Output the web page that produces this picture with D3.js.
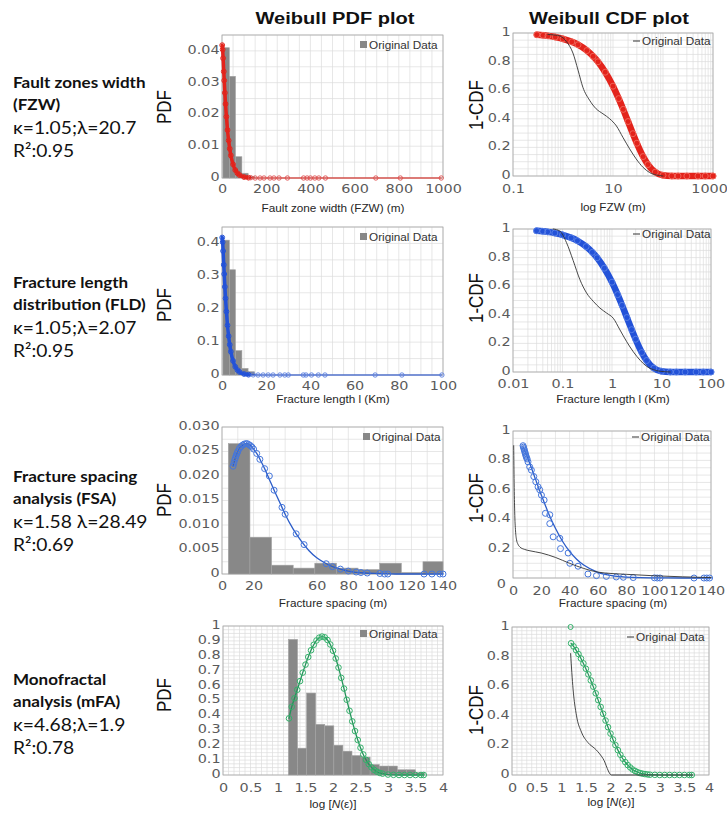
<!DOCTYPE html>
<html>
<head>
<meta charset="utf-8">
<title>Weibull PDF and CDF fits</title>
<script src="https://cdn.jsdelivr.net/npm/d3@7/dist/d3.min.js"></script>
<style>
  html, body { margin: 0; padding: 0; background: #fff; }
  svg { display: block; }
</style>
</head>
<body>
<svg id="fig" width="727" height="813"></svg>
<script>
// ---------- labels ----------
const columnTitles = ["Weibull PDF plot", "Weibull CDF plot"];
const rowNames = [["Fault zones width", "(FZW)"], ["Fracture length", "distribution (FLD)"],
                  ["Fracture spacing", "analysis (FSA)"], ["Monofractal", "analysis (mFA)"]];
const rowParams = ["κ=1.05;λ=20.7", "κ=1.05;λ=2.07", "κ=1.58 λ=28.49", "κ=4.68;λ=1.9"];
const rowFit = ["R²:0.95", "R²:0.95", "R²:0.69", "R²:0.78"];
const legendLabel = "Original Data";

// ---------- Fault zone width (FZW) ----------
const fzwBinEdges = [4, 33, 61, 90, 118, 147];
const fzwBinDensity = [0.041, 0.032, 0.0067, 0.0015, 0.0005];
const fzwPdfX = [1, 3, 5, 8, 10, 13, 16, 20, 25, 30, 35, 40, 50, 60, 70, 80, 100, 120];
const fzwPdfY = [0.0418, 0.0404, 0.0377, 0.0335, 0.0307, 0.0268, 0.0233, 0.0193, 0.0151, 0.0118, 0.0092, 0.0071, 0.0043, 0.0025, 0.0015, 0.0009, 0.0003, 0.0001];
const fzwTailX = [130, 150, 172, 190, 217, 235, 258, 296, 369, 385, 400, 420, 438, 468, 696, 807, 992];
const fzwTailY = [0.0001, 0, 0, 0, 0, 0, 0, 0, 0, 0, 0, 0, 0, 0, 0, 0, 0];
const fzwCdfX = [0.3, 0.4, 0.5, 0.7, 1, 1.5, 2, 3, 4, 5, 7, 10, 13, 16, 20, 25, 30, 40, 50, 70, 100, 150, 200, 300, 500, 700, 1000];
const fzwCdfY = [0.988, 0.984, 0.980, 0.972, 0.959, 0.938, 0.918, 0.877, 0.837, 0.799, 0.726, 0.628, 0.541, 0.466, 0.381, 0.296, 0.229, 0.136, 0.080, 0.027, 0.005, 0.0003, 0, 0, 0, 0, 0];
const fzwEmpX = [0.5, 0.7, 0.86, 1.17, 1.58, 2.0, 2.5, 3.4, 4.6, 6.3, 8.6, 11.7, 15.8, 21.5, 29, 40, 54, 74, 100];
const fzwEmpY = [0.99, 0.985, 0.98, 0.94, 0.86, 0.74, 0.62, 0.53, 0.47, 0.435, 0.40, 0.35, 0.27, 0.19, 0.12, 0.06, 0.024, 0.007, 0];

// ---------- Fracture length distribution (FLD) ----------
const fldBinEdges = [0.4, 3.3, 6.1, 9.0, 11.8, 14.7];
const fldBinDensity = [0.41, 0.32, 0.074, 0.02, 0.01];
const fldPdfX = [0.1, 0.3, 0.5, 0.8, 1, 1.3, 1.6, 2, 2.5, 3, 3.5, 4, 5, 6, 7, 8, 10, 12];
const fldPdfY = [0.418, 0.404, 0.377, 0.335, 0.307, 0.268, 0.233, 0.193, 0.151, 0.118, 0.092, 0.071, 0.043, 0.025, 0.015, 0.009, 0.003, 0.001];
const fldTailX = [14.1, 16.3, 18.6, 20.9, 23.1, 26.2, 28.4, 30, 36.8, 38, 40.5, 43.6, 46.6, 69.3, 81.4, 99.5];
const fldTailY = [0.0004, 0, 0, 0, 0, 0, 0, 0, 0, 0, 0, 0, 0, 0, 0, 0];
const fldCdfX = [0.03, 0.04, 0.05, 0.07, 0.1, 0.15, 0.2, 0.3, 0.4, 0.5, 0.7, 1, 1.3, 1.6, 2, 2.5, 3, 4, 5, 7, 10, 15, 20, 30, 50, 70, 100];
const fldCdfY = [0.988, 0.984, 0.980, 0.972, 0.959, 0.938, 0.918, 0.877, 0.837, 0.799, 0.726, 0.628, 0.541, 0.466, 0.381, 0.296, 0.229, 0.136, 0.080, 0.027, 0.005, 0.0003, 0, 0, 0, 0, 0];
const fldEmpX = [0.065, 0.088, 0.12, 0.164, 0.224, 0.306, 0.419, 0.571, 0.78, 1.06, 1.45, 1.98, 2.7, 3.7, 5.0, 6.9, 9.4, 15];
const fldEmpY = [1.0, 0.986, 0.906, 0.78, 0.647, 0.553, 0.494, 0.447, 0.412, 0.376, 0.294, 0.212, 0.141, 0.082, 0.04, 0.016, 0.005, 0];

// ---------- Fracture spacing analysis (FSA) ----------
const fsaBinEdges = [4, 17.7, 31.4, 45.1, 58.8, 72.5, 86.2, 99.9, 113.6, 127.3, 140];
const fsaBinDensity = [0.0266, 0.0075, 0.0018, 0.0012, 0.0022, 0.0012, 0.0009, 0.0022, 0.0003, 0.0025];
const fsaPdfX = [7, 8, 9, 10, 11, 12, 13, 14, 15, 16, 17, 18, 20, 22, 25, 27, 30, 33, 35, 38, 40, 45, 50, 55, 60, 65, 70, 75, 80, 90, 100, 110, 120, 130, 140];
const fsaPdfY = [0.0220, 0.0232, 0.0242, 0.0250, 0.0256, 0.0260, 0.0263, 0.0265, 0.0266, 0.0266, 0.0264, 0.0262, 0.0255, 0.0246, 0.0228, 0.0215, 0.0193, 0.0171, 0.0157, 0.0136, 0.0122, 0.0092, 0.0068, 0.0048, 0.0033, 0.0023, 0.0015, 0.0010, 0.0006, 0.0002, 0.0001, 0, 0, 0, 0];
const fsaPdfObsX = [7, 7.5, 8, 8.5, 9, 9.5, 10, 11, 12, 13, 14, 15, 16, 17, 18, 19, 20, 22, 24, 27, 30, 33, 38, 40, 47, 52, 66, 70, 75, 80, 85, 88, 92, 100, 103, 105, 128, 133, 138, 140];
const fsaPdfObsY = [0.0220, 0.0226, 0.0232, 0.0237, 0.0242, 0.0246, 0.0250, 0.0256, 0.0260, 0.0263, 0.0265, 0.0266, 0.0266, 0.0264, 0.0262, 0.0259, 0.0255, 0.0246, 0.0234, 0.0215, 0.0200, 0.0171, 0.0136, 0.0122, 0.0082, 0.0060, 0.0021, 0.0015, 0.0010, 0.0006, 0.0004, 0.0003, 0.0002, 0.0001, 0, 0, 0, 0, 0, 0];
const fsaCdfX = [7, 10, 12, 15, 18, 20, 25, 30, 35, 40, 45, 50, 60, 70, 80, 90, 100, 120, 140];
const fsaCdfY = [0.895, 0.826, 0.775, 0.696, 0.616, 0.565, 0.443, 0.338, 0.250, 0.181, 0.128, 0.088, 0.039, 0.016, 0.006, 0.002, 0.001, 0, 0];
const fsaObsX = [7.1, 7.4, 7.7, 8.0, 8.3, 8.6, 8.9, 9.2, 9.5, 10.0, 10.6, 11.8, 13, 14.7, 16.1, 17.7, 18.9, 20.1, 22, 22.9, 26, 26, 28.4, 33.1, 33.6, 39, 40.2, 46, 53, 59, 66, 73, 78, 85, 100, 102, 104, 128, 135, 137, 139];
const fsaObsY = [0.90, 0.89, 0.88, 0.87, 0.86, 0.85, 0.84, 0.83, 0.82, 0.81, 0.79, 0.756, 0.734, 0.69, 0.655, 0.62, 0.60, 0.564, 0.53, 0.44, 0.43, 0.37, 0.28, 0.27, 0.20, 0.17, 0.10, 0.08, 0.027, 0.016, 0.011, 0.007, 0.005, 0.003, 0.001, 0, 0, 0, 0, 0, 0];
const fsaEmpX = [0.5, 0.8, 1.2, 1.8, 2.5, 3.5, 5, 8, 12, 20, 30, 40, 50, 60, 80, 100, 120, 140];
const fsaEmpY = [0.90, 0.65, 0.45, 0.32, 0.26, 0.23, 0.21, 0.195, 0.185, 0.17, 0.14, 0.10, 0.065, 0.04, 0.025, 0.015, 0.008, 0.003];

// ---------- Monofractal analysis (mFA) ----------
const mfaBinEdges = [1.19, 1.355, 1.52, 1.685, 1.85, 2.015, 2.18, 2.345, 2.51, 2.675, 2.84, 3.005, 3.17, 3.335, 3.5, 3.665];
const mfaBinDensity = [0.91, 0.18, 0.55, 0.34, 0.33, 0.20, 0.16, 0.13, 0.12, 0.07, 0.06, 0.06, 0.035, 0.035, 0.015];
const mfaPdfX = [1.2, 1.25, 1.3, 1.35, 1.4, 1.45, 1.5, 1.55, 1.6, 1.65, 1.7, 1.75, 1.8, 1.85, 1.9, 1.95, 2.0, 2.05, 2.1, 2.15, 2.2, 2.25, 2.3, 2.35, 2.4, 2.45, 2.5, 2.55, 2.6, 2.65, 2.7, 2.75, 2.8, 2.85, 2.9, 3.0, 3.1, 3.2, 3.3, 3.4, 3.5, 3.6, 3.65];
const mfaPdfY = [0.38, 0.458, 0.515, 0.572, 0.630, 0.687, 0.741, 0.792, 0.837, 0.874, 0.903, 0.922, 0.929, 0.924, 0.906, 0.876, 0.834, 0.782, 0.721, 0.652, 0.580, 0.505, 0.431, 0.360, 0.295, 0.235, 0.183, 0.138, 0.102, 0.073, 0.051, 0.034, 0.022, 0.014, 0.009, 0.003, 0.001, 0, 0, 0, 0, 0, 0];
const mfaCdfX = [1.2, 1.25, 1.3, 1.35, 1.4, 1.45, 1.5, 1.55, 1.6, 1.65, 1.7, 1.75, 1.8, 1.85, 1.9, 1.95, 2.0, 2.05, 2.1, 2.15, 2.2, 2.25, 2.3, 2.35, 2.4, 2.45, 2.5, 2.55, 2.6, 2.65, 2.7, 2.75, 2.8, 2.9, 3.0, 3.1, 3.2, 3.3, 3.4, 3.5, 3.6, 3.65];
const mfaCdfY = [0.890, 0.869, 0.844, 0.817, 0.787, 0.754, 0.718, 0.680, 0.639, 0.597, 0.552, 0.506, 0.460, 0.414, 0.368, 0.323, 0.280, 0.240, 0.202, 0.168, 0.137, 0.110, 0.087, 0.067, 0.051, 0.037, 0.027, 0.019, 0.013, 0.009, 0.006, 0.004, 0.002, 0.001, 0, 0, 0, 0, 0, 0, 0, 0];
const mfaCdfOutlierX = [1.19];
const mfaCdfOutlierY = [1.0];
const mfaEmpX = [1.19, 1.24, 1.31, 1.41, 1.54, 1.71, 1.85, 2.02, 2.5, 3.0, 3.67];
const mfaEmpY = [0.82, 0.58, 0.40, 0.29, 0.22, 0.17, 0.11, 0.0, 0.0, 0.0, 0.0];

// ---------- drawing ----------
const TICK_FONT = "'DejaVu Sans', sans-serif";
const AX_FONT = "'Liberation Sans', Arial, sans-serif";
const NOTE_FONT = "Lato, 'Open Sans', sans-serif";
const SX = 1.2;   // horizontal text stretch used across the figure
const RED = "#e3231b", BLUE = "#2352d8", GREEN = "#33b06a", GREEN_LINE = "#23935a", BAR = "#888888";

const svg = d3.select("#fig");

function text(g, x, y, str, o = {}) {
  return g.append("text")
    .attr("transform", `translate(${x},${y}) scale(${o.sx ?? SX},1)`)
    .attr("text-anchor", o.anchor || "middle")
    .attr("font-family", o.family || AX_FONT)
    .attr("font-size", o.size || 11)
    .attr("font-weight", o.weight || "normal")
    .attr("fill", o.fill || "#262626")
    .text(str);
}

function zip(xs, ys) { return xs.map((v, i) => [v, ys[i]]); }

function panel(p) {
  const x = (p.log ? d3.scaleLog() : d3.scaleLinear()).domain(p.xDomain).range([p.left, p.right]);
  const y = d3.scaleLinear().domain(p.yDomain).range([p.bottom, p.top]);
  const g = svg.append("g");

  const grid = g.append("g").attr("stroke", "#dcdcdc").attr("stroke-width", 0.7);
  grid.selectAll(".gx").data(p.xGrid).join("line").attr("class", "gx")
    .attr("x1", d => x(d)).attr("x2", d => x(d)).attr("y1", p.top).attr("y2", p.bottom);
  grid.selectAll(".gy").data(p.yGrid).join("line").attr("class", "gy")
    .attr("x1", p.left).attr("x2", p.right).attr("y1", d => y(d)).attr("y2", d => y(d));

  g.append("rect").attr("x", p.left).attr("y", p.top)
    .attr("width", p.right - p.left).attr("height", p.bottom - p.top)
    .attr("fill", "none").attr("stroke", "#a6a6a6").attr("stroke-width", 0.8);

  const ax = g.append("g").attr("transform", `translate(0,${p.bottom})`)
    .call(d3.axisBottom(x).tickValues(p.xTicks).tickFormat(p.xFmt).tickSize(0).tickPadding(p.xPad || 6));
  const ay = g.append("g").attr("transform", `translate(${p.left},0)`)
    .call(d3.axisLeft(y).tickValues(p.yTicks).tickFormat(p.yFmt).tickSize(0).tickPadding(2));
  [ax, ay].forEach(a => {
    a.select(".domain").remove();
    a.selectAll("text").attr("font-family", TICK_FONT).attr("font-size", 12)
      .attr("fill", "#5a5a5a").attr("transform", `scale(${SX},1)`);
  });
  ay.selectAll("text").attr("dy", "0.2em");

  const layer = g.append("g");
  return { x, y, g, layer, ax, ay, p };
}

function bars(P, edges, dens) {
  const d = dens.map((v, i) => ({ x0: edges[i], x1: edges[i + 1], v }));
  P.layer.append("g").selectAll("rect").data(d).join("rect")
    .attr("x", b => P.x(b.x0)).attr("width", b => P.x(b.x1) - P.x(b.x0))
    .attr("y", b => P.y(b.v)).attr("height", b => P.y(0) - P.y(b.v))
    .attr("fill", BAR).attr("stroke", "#a3a3a3").attr("stroke-width", 0.6);
}

function line(P, pts, color, width) {
  P.layer.append("path").datum(pts)
    .attr("d", d3.line().x(d => P.x(d[0])).y(d => P.y(d[1])).curve(d3.curveMonotoneX))
    .attr("fill", "none").attr("stroke", color).attr("stroke-width", width)
    .attr("stroke-linejoin", "round").attr("stroke-linecap", "round");
}

function rings(P, pts, color, r, sw) {
  P.layer.append("g").selectAll("circle").data(pts).join("circle")
    .attr("cx", d => P.x(d[0])).attr("cy", d => P.y(d[1])).attr("r", r)
    .attr("fill", "none").attr("stroke", color).attr("stroke-width", sw || 1);
}

function pdfLegend(P, lx, ly) {
  P.g.append("rect").attr("x", lx).attr("y", ly - 4).attr("width", 7).attr("height", 7).attr("fill", BAR);
  text(P.g, lx + 9, ly + 3.5, legendLabel, { anchor: "start", size: 10.5, sx: 1.12, fill: "#333" });
}
function cdfLegend(P, lx, ly) {
  P.g.append("line").attr("x1", lx).attr("x2", lx + 7).attr("y1", ly).attr("y2", ly)
    .attr("stroke", "#333").attr("stroke-width", 1);
  text(P.g, lx + 9, ly + 3.5, legendLabel, { anchor: "start", size: 10.5, sx: 1.12, fill: "#333" });
}

function yTitle(x, y, str) {
  svg.append("text")
    .attr("transform", `translate(${x},${y}) scale(1.15,1) rotate(-90)`)
    .attr("text-anchor", "middle").attr("font-family", AX_FONT).attr("font-size", 17)
    .attr("fill", "#111").text(str);
}

function logN(x, y, sx) {
  const t = svg.append("text").attr("transform", `translate(${x},${y}) scale(${sx},1)`)
    .attr("text-anchor", "middle").attr("font-family", AX_FONT).attr("font-size", 10.5).attr("fill", "#262626");
  t.append("tspan").text("log [");
  t.append("tspan").attr("font-style", "italic").text("N");
  t.append("tspan").text("(ε)]");
}

function logGrid(lo, hi) {
  const out = [];
  for (let e = Math.log10(lo); e < Math.log10(hi); e++)
    for (let k = 1; k < 10; k++) out.push(k * Math.pow(10, e));
  out.push(hi);
  return out;
}
const step = (a, b, s) => d3.range(0, Math.round((b - a) / s) + 1).map(i => +(a + i * s).toFixed(6));
const fmtFixed = n => d => d === 0 ? "0" : d3.format(`.${n}f`)(d);
const fmtCdfY = d => d === 0 ? "0" : d === 1 ? "1" : d3.format(".1f")(d);

// column titles
text(svg, 335, 24, columnTitles[0], { size: 17, weight: "bold", fill: "#111", sx: 1.18 });
text(svg, 609, 24, columnTitles[1], { size: 17, weight: "bold", fill: "#111", sx: 1.18 });

// row notes
const noteTops = [88, 288, 482, 685];
noteTops.forEach((t, i) => {
  const o = { anchor: "start", family: NOTE_FONT, fill: "#111" };
  text(svg, 13, t, rowNames[i][0], { ...o, size: 15.5, weight: "bold", sx: 1.1 });
  text(svg, 13, t + 22, rowNames[i][1], { ...o, size: 15.5, weight: "bold", sx: 1.1 });
  text(svg, 13, t + 46, rowParams[i], { ...o, size: 17.5, sx: 1.1 });
  text(svg, 13, t + 69, rowFit[i], { ...o, size: 17.5, sx: 1.1 });
});

// ===== Row 1: FZW =====
{
  const P = panel({ left: 222, right: 443, top: 35, bottom: 178, xDomain: [0, 1000], yDomain: [0, 0.045],
    xTicks: step(0, 1000, 200), xFmt: d3.format("d"), yTicks: step(0, 0.04, 0.01), yFmt: fmtFixed(2),
    xGrid: step(0, 1000, 50), yGrid: step(0, 0.045, 0.005), xPad: 6 });
  bars(P, fzwBinEdges, fzwBinDensity);
  line(P, zip([...fzwPdfX, ...fzwTailX.slice(1)], [...fzwPdfY, ...fzwTailY.slice(1)]), RED, 1.2);
  line(P, zip(fzwPdfX, fzwPdfY), RED, 3.5);
  rings(P, zip(fzwPdfX, fzwPdfY), RED, 2.4, 1);
  rings(P, zip(fzwTailX, fzwTailY), "#e05050", 2.2, 0.9);
  pdfLegend(P, 360, 45);
  text(svg, 333, 212, "Fault zone width (FZW) (m)", { size: 10.5, sx: 1.12 });
  yTitle(171, 107, "PDF");

  const C = panel({ left: 513, right: 713, top: 33, bottom: 176, log: true, xDomain: [0.1, 1000], yDomain: [0, 1],
    xTicks: [0.1, 10, 1000], xFmt: d => d3.format("~g")(d), yTicks: step(0, 1, 0.2), yFmt: fmtCdfY,
    xGrid: logGrid(0.1, 1000), yGrid: step(0, 1, 0.05), xPad: 8 });
  // keep the last tick label inside the page edge
  C.ax.selectAll("text").filter(d => d === 1000).attr("text-anchor", "end").attr("x", 12);
  line(C, zip(fzwCdfX, fzwCdfY), RED, 6.5);
  rings(C, zip(fzwCdfX, fzwCdfY), "#f06a5e", 3, 0.9);
  line(C, zip(fzwEmpX, fzwEmpY), "#333", 0.9);
  cdfLegend(C, 633, 41);
  text(svg, 613, 211, "log FZW (m)", { size: 10.5, sx: 1.12 });
  yTitle(483, 105, "1-CDF");
}

// ===== Row 2: FLD =====
{
  const P = panel({ left: 222, right: 443, top: 227, bottom: 375, xDomain: [0, 100], yDomain: [0, 0.45],
    xTicks: step(0, 100, 20), xFmt: d3.format("d"), yTicks: step(0, 0.4, 0.1), yFmt: fmtFixed(1),
    xGrid: step(0, 100, 5), yGrid: step(0, 0.45, 0.05), xPad: 6 });
  bars(P, fldBinEdges, fldBinDensity);
  line(P, zip([...fldPdfX, ...fldTailX], [...fldPdfY, ...fldTailY]), BLUE, 1.2);
  line(P, zip(fldPdfX, fldPdfY), BLUE, 3.5);
  rings(P, zip(fldPdfX, fldPdfY), BLUE, 2.4, 1);
  rings(P, zip(fldTailX, fldTailY), "#5a7fe0", 2.2, 0.9);
  pdfLegend(P, 360, 237);
  text(svg, 333, 403, "Fracture length  l (Km)", { size: 10.5, sx: 1.12 });
  yTitle(171, 305, "PDF");

  const C = panel({ left: 513, right: 711, top: 229, bottom: 372, log: true, xDomain: [0.01, 100], yDomain: [0, 1],
    xTicks: [0.01, 0.1, 1, 10, 100], xFmt: d => d3.format("~g")(d), yTicks: step(0, 1, 0.2), yFmt: fmtCdfY,
    xGrid: logGrid(0.01, 100), yGrid: step(0, 1, 0.05), xPad: 7 });
  line(C, zip(fldCdfX, fldCdfY), BLUE, 6.5);
  rings(C, zip(fldCdfX, fldCdfY), "#5b82e6", 3, 0.9);
  line(C, zip(fldEmpX, fldEmpY), "#333", 0.9);
  cdfLegend(C, 633, 234);
  text(svg, 613, 403, "Fracture length  l (Km)", { size: 10.5, sx: 1.12 });
  yTitle(483, 298, "1-CDF");
}

// ===== Row 3: FSA =====
{
  const P = panel({ left: 222, right: 443, top: 427, bottom: 574, xDomain: [0, 140], yDomain: [0, 0.03],
    xTicks: [0, 20, 60, 80, 100, 120, 140], xFmt: d3.format("d"), yTicks: step(0, 0.03, 0.005), yFmt: fmtFixed(3),
    xGrid: step(0, 140, 10), yGrid: step(0, 0.03, 0.0025), xPad: 7 });
  bars(P, fsaBinEdges, fsaBinDensity);
  line(P, zip(fsaPdfX, fsaPdfY), "#2b5cc8", 1.3);
  rings(P, zip(fsaPdfObsX, fsaPdfObsY), "#4677dc", 3, 1);
  pdfLegend(P, 363, 437);
  text(svg, 333, 607, "Fracture spacing (m)", { size: 10.5, sx: 1.12 });
  yTitle(171, 500, "PDF");

  const C = panel({ left: 513, right: 711, top: 431, bottom: 578, xDomain: [0, 140], yDomain: [0, 1],
    xTicks: step(0, 140, 20), xFmt: d3.format("d"), yTicks: step(0, 1, 0.2), yFmt: fmtCdfY,
    xGrid: step(0, 140, 10), yGrid: step(0, 1, 0.05), xPad: 8 });
  // the zero label of this axis sits a little lower and further left
  C.ay.selectAll("text").filter(d => d === 0).attr("x", -6).attr("dy", "0.75em");
  line(C, zip(fsaCdfX, fsaCdfY), "#2b5cc8", 1.3);
  rings(C, zip(fsaObsX, fsaObsY), "#4677dc", 3, 1);
  line(C, zip(fsaEmpX, fsaEmpY), "#333", 0.9);
  cdfLegend(C, 632, 437);
  text(svg, 613, 607, "Fracture spacing (m)", { size: 10.5, sx: 1.12 });
  yTitle(483, 498, "1-CDF");
}

// ===== Row 4: mFA =====
{
  const xf = d => d3.format("~g")(d);
  const P = panel({ left: 223, right: 443, top: 626, bottom: 775, xDomain: [0, 4], yDomain: [0, 1],
    xTicks: step(0, 4, 0.5), xFmt: xf, yTicks: step(0, 1, 0.1), yFmt: fmtCdfY,
    xGrid: step(0, 4, 0.1), yGrid: step(0, 1, 0.025), xPad: 8 });
  bars(P, mfaBinEdges, mfaBinDensity);
  line(P, zip(mfaPdfX, mfaPdfY), GREEN_LINE, 1.3);
  rings(P, zip(mfaPdfX, mfaPdfY), GREEN, 2.8, 1);
  pdfLegend(P, 360, 634);
  logN(333, 808, 1.12);
  yTitle(171, 695, "PDF");

  const C = panel({ left: 512, right: 709, top: 627, bottom: 775, xDomain: [0, 4], yDomain: [0, 1],
    xTicks: step(0, 4, 0.5), xFmt: xf, yTicks: step(0, 1, 0.2), yFmt: fmtCdfY,
    xGrid: step(0, 4, 0.1), yGrid: step(0, 1, 0.025), xPad: 8 });
  line(C, zip(mfaCdfX, mfaCdfY), GREEN_LINE, 1.2);
  rings(C, zip(mfaCdfX, mfaCdfY), GREEN, 2.8, 1);
  rings(C, zip(mfaCdfOutlierX, mfaCdfOutlierY), GREEN, 2.5, 1);
  line(C, zip(mfaEmpX, mfaEmpY), "#333", 0.9);
  cdfLegend(C, 627, 637);
  logN(611, 806, 1.12);
  yTitle(483, 710, "1-CDF");
}
</script>
</body>
</html>
